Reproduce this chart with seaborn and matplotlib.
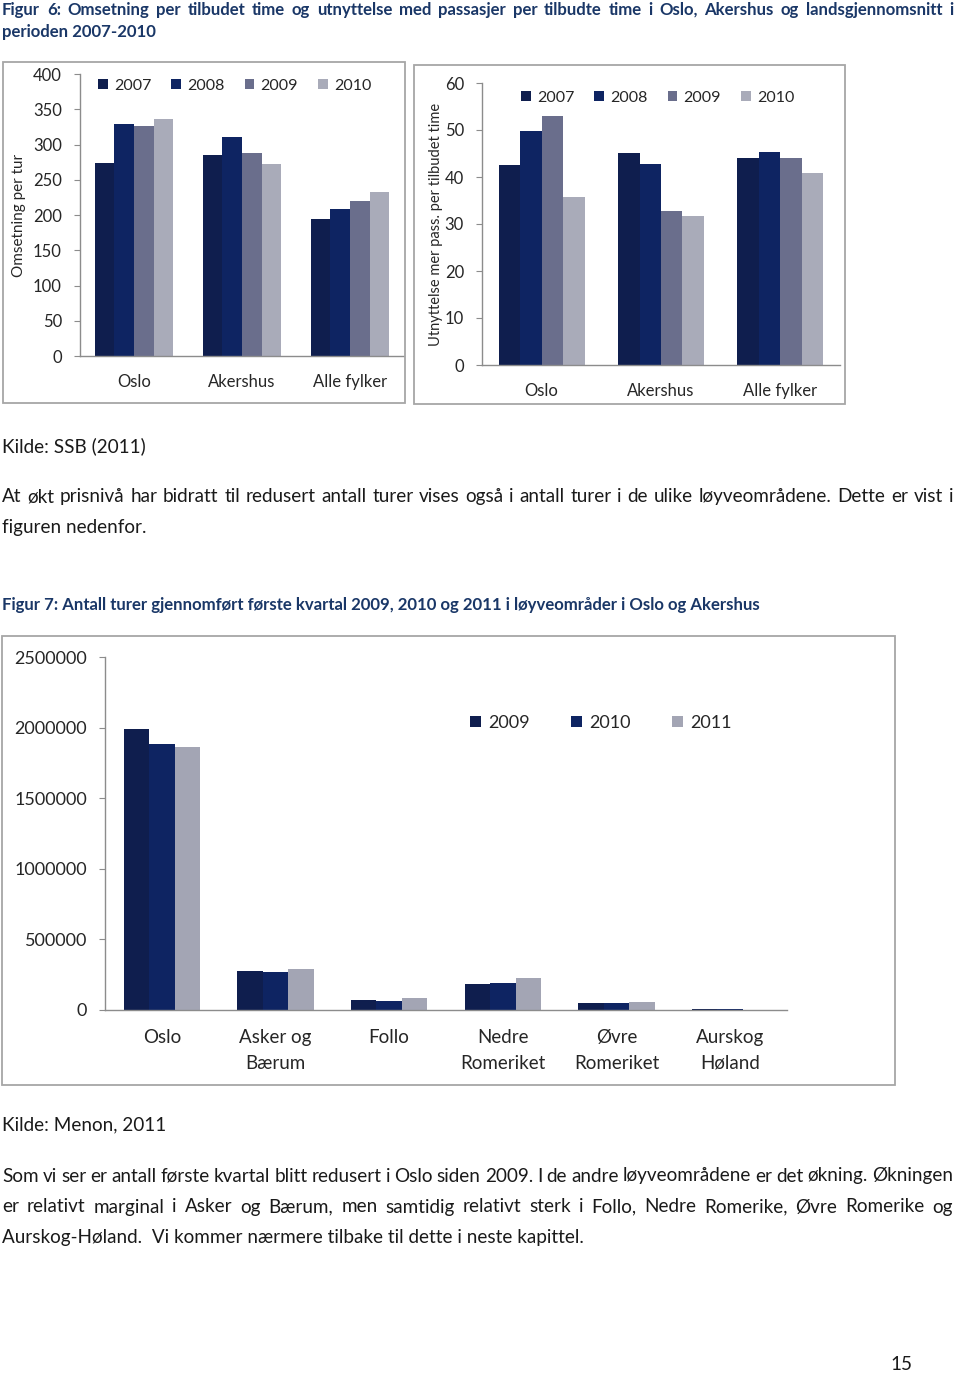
import matplotlib
matplotlib.use("Agg")
import matplotlib.pyplot as plt
from matplotlib.patches import Rectangle
import pandas as pd
import seaborn as sns

sns.set_style("white")
plt.rcParams["font.family"] = ["Lato", "DejaVu Sans"]

W, H = 960, 1373

# Figur 6 data
omrader6 = ["Oslo", "Akershus", "Alle fylker"]
aar6 = ["2007", "2008", "2009", "2010"]
omsetning = {
    "2007": [274, 285, 195],
    "2008": [329, 311, 208],
    "2009": [326, 288, 220],
    "2010": [336, 272, 233],
}
utnyttelse = {
    "2007": [42.5, 45.1, 44.0],
    "2008": [49.8, 42.8, 45.4],
    "2009": [53.0, 32.8, 44.0],
    "2010": [35.8, 31.8, 40.8],
}
farger6 = ["#0f1e4e", "#0e2462", "#6a6e8c", "#a9abb9"]

# Figur 7 data
omrader7 = ["Oslo", "Asker og\nBærum", "Follo", "Nedre\nRomeriket", "Øvre\nRomeriket", "Aurskog\nHøland"]
aar7 = ["2009", "2010", "2011"]
turer = {
    "2009": [1990000, 276000, 71000, 184000, 50000, 7000],
    "2010": [1884000, 269000, 66000, 191000, 51000, 9000],
    "2011": [1862000, 292000, 86000, 227000, 57000, 0],
}
farger7 = ["#0f1e4e", "#0e2462", "#a3a5b4"]

tekst = "#262626"
blaa = "#1a3767"


def long_df(cats, years, vals):
    rows = []
    for y in years:
        for c, v in zip(cats, vals[y]):
            rows.append({"omrade": c, "aar": y, "verdi": v})
    return pd.DataFrame(rows)


fig = plt.figure(figsize=(W / 100, H / 100), dpi=100)


def px_axes(x0, y0, x1, y1):
    return fig.add_axes([x0 / W, 1 - y1 / H, (x1 - x0) / W, (y1 - y0) / H])


def box(x0, y0, x1, y1):
    fig.patches.append(Rectangle((x0 / W, 1 - y1 / H), (x1 - x0) / W, (y1 - y0) / H,
                                 transform=fig.transFigure, fill=False,
                                 edgecolor="#a6a6a6", linewidth=1.3))


def bar_chart(ax, df, palette, width, ylim, yticks, fs, n, xpad=11, xfs=None):
    sns.barplot(data=df, x="omrade", y="verdi", hue="aar", palette=palette,
                width=width, saturation=1, ax=ax, edgecolor="none", linewidth=0)
    ax.set_xlim(-0.5, n - 0.5)
    ax.set_ylim(*ylim)
    ax.set_yticks(yticks)
    ax.set_xlabel("")
    ax.set_ylabel("")
    for s in ["top", "right"]:
        ax.spines[s].set_visible(False)
    for s in ["left", "bottom"]:
        ax.spines[s].set_color("#8c8c8c")
        ax.spines[s].set_linewidth(1.0)
    ax.set_xticks([i - 0.5 for i in range(n + 1)], minor=True)
    ax.tick_params(axis="x", which="major", length=0, labelsize=xfs or fs, colors=tekst, pad=xpad)
    ax.tick_params(axis="x", which="minor", length=4, color="#8c8c8c", direction="out")
    ax.tick_params(axis="y", length=4, color="#8c8c8c", direction="out",
                   labelsize=fs, labelcolor=tekst, pad=9, left=True)
    ax.patch.set_alpha(0)


def legend(ax, x, y, fs, colsp):
    h, l = ax.get_legend_handles_labels()
    ax.legend(h, l, ncol=len(l), loc="center left", bbox_to_anchor=(x / W, 1 - y / H),
              bbox_transform=fig.transFigure, frameon=False, fontsize=fs,
              handlelength=0.6, handleheight=0.6, handletextpad=0.4,
              columnspacing=colsp, borderpad=0, borderaxespad=0, labelcolor=tekst)


# Figur 6 venstre
box(3, 62, 405, 403)
ax1 = px_axes(80, 74, 404, 356)
bar_chart(ax1, long_df(omrader6, aar6, omsetning), farger6, 0.725, (0, 400),
          range(0, 401, 50), 12, 3, xpad=13)
ax1.set_ylabel("Omsetning per tur", fontsize=11, color=tekst)
ax1.yaxis.set_label_coords((26 - 80) / 324, 0.5)
legend(ax1, 98, 86, 11.5, 1.25)

# Figur 6 hoyre
box(414, 65, 845, 404)
ax2 = px_axes(482, 83, 840, 365)
bar_chart(ax2, long_df(omrader6, aar6, utnyttelse), farger6, 0.72, (0, 60),
          range(0, 61, 10), 12, 3, xpad=13)
ax2.set_ylabel("Utnyttelse mer pass. per tilbudet time", fontsize=10.5, color=tekst)
ax2.yaxis.set_label_coords((443 - 482) / 358, 0.5)
legend(ax2, 521, 98, 11.5, 1.25)

# Figur 7
box(2, 636, 895, 1085)
ax3 = px_axes(105, 657, 787, 1010)
bar_chart(ax3, long_df(omrader7, aar7, turer), farger7, 0.67, (0, 2500000),
          range(0, 2500001, 500000), 13, 6, xpad=14, xfs=13.5)
ax3.yaxis.set_major_formatter(matplotlib.ticker.FuncFormatter(lambda v, p: f"{int(v)}"))
for t in ax3.get_xticklabels():
    t.set_linespacing(1.6)
    t.set_verticalalignment("top")
legend(ax3, 470, 723, 13, 2.3)

# Tekst
body = dict(fontsize=13.6, color="#1a1a1a", va="center")
renderer = fig.canvas.get_renderer()


def justify(line, y, x0=2, x1=953, **kw):
    words = line.split()
    texts = [fig.text(0, 1 - y / H, w, **kw) for w in words]
    widths = [t.get_window_extent(renderer).width for t in texts]
    gap = (x1 - x0 - sum(widths)) / (len(words) - 1)
    x = x0
    for t, w in zip(texts, widths):
        t.set_x(x / W)
        x += w + gap


def left(line, y, x0=2, **kw):
    fig.text(x0 / W, 1 - y / H, line, **kw)


tittel = dict(fontsize=12.1, color=blaa, va="center", fontweight="bold")
justify("Figur 6: Omsetning per tilbudet time og utnyttelse med passasjer per tilbudte time i Oslo, Akershus og landsgjennomsnitt i",
        10, **tittel)
left("perioden 2007-2010", 32, **tittel)

left("Kilde: SSB (2011)", 446, **body)
justify("At økt prisnivå har bidratt til redusert antall turer vises også i antall turer i de ulike løyveområdene.  Dette er vist i",
        497, **body)
left("figuren nedenfor.", 527, **body)

left("Figur 7: Antall turer gjennomført første kvartal 2009, 2010 og 2011 i løyveområder i Oslo og Akershus",
     605, **tittel)

left("Kilde: Menon, 2011", 1125, **body)
justify("Som vi ser er antall første kvartal blitt redusert i Oslo siden 2009. I de andre løyveområdene er det økning. Økningen",
        1176, **body)
justify("er relativt marginal i Asker og Bærum, men samtidig relativt sterk i Follo, Nedre Romerike, Øvre Romerike og",
        1207, **body)
left("Aurskog-Høland.  Vi kommer nærmere tilbake til dette i neste kapittel.", 1237, **body)

left("15", 1364, x0=890, **body)

fig.savefig("out.png", dpi=100)
